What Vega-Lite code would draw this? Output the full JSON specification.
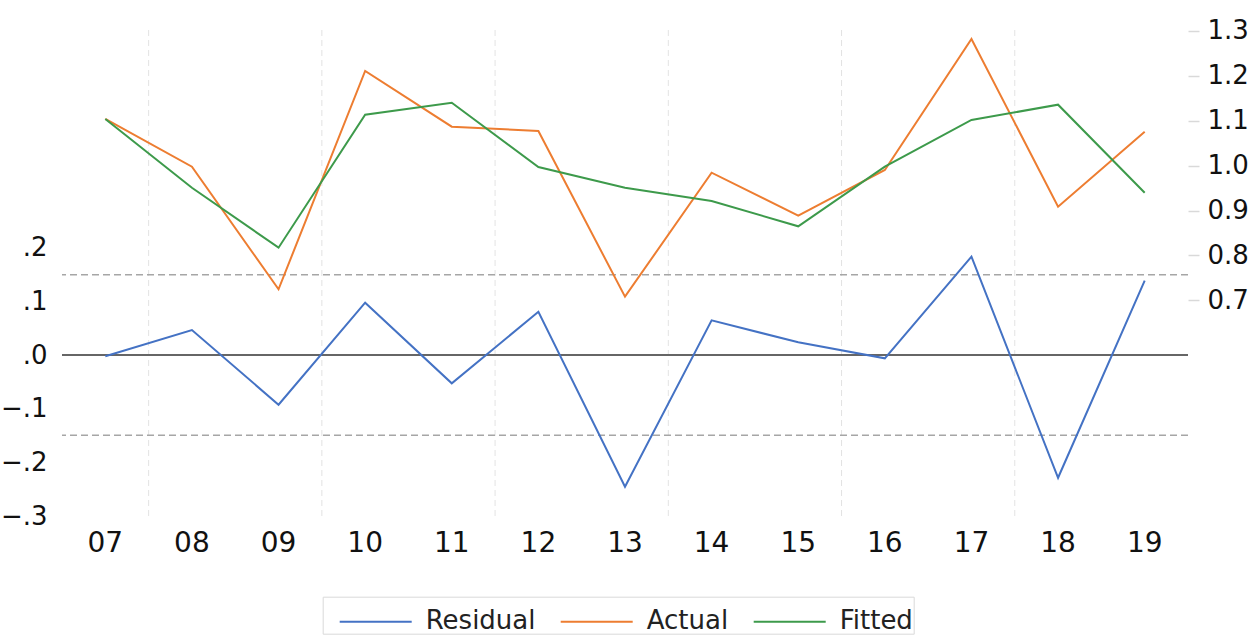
{
  "$schema": "https://vega.github.io/schema/vega-lite/v6.json",
  "width": 1126,
  "height": 487,
  "autosize": {"type": "none"},
  "padding": {"left": 62, "top": 30, "right": 66, "bottom": 119},
  "background": "white",
  "config": {
    "view": {"stroke": null},
    "font": "DejaVu Sans",
    "axis": {"labelFont": "DejaVu Sans", "labelColor": "#111111", "grid": false, "domain": false},
    "axisX": {"title": null, "labelAngle": 0, "ticks": false, "labelFontSize": 28, "labelPadding": 12}
  },
  "datasets": {
    "series": [
      {"year": "07", "series": "Residual", "value": -0.0024},
      {"year": "08", "series": "Residual", "value": 0.0465},
      {"year": "09", "series": "Residual", "value": -0.0924},
      {"year": "10", "series": "Residual", "value": 0.0972},
      {"year": "11", "series": "Residual", "value": -0.0526},
      {"year": "12", "series": "Residual", "value": 0.0805},
      {"year": "13", "series": "Residual", "value": -0.2448},
      {"year": "14", "series": "Residual", "value": 0.0645},
      {"year": "15", "series": "Residual", "value": 0.0236},
      {"year": "16", "series": "Residual", "value": -0.0061},
      {"year": "17", "series": "Residual", "value": 0.1827},
      {"year": "18", "series": "Residual", "value": -0.2281},
      {"year": "19", "series": "Residual", "value": 0.1381},
      {"year": "07", "series": "Actual", "value": 1.1039},
      {"year": "08", "series": "Actual", "value": 0.9976},
      {"year": "09", "series": "Actual", "value": 0.7245},
      {"year": "10", "series": "Actual", "value": 1.2109},
      {"year": "11", "series": "Actual", "value": 1.0868},
      {"year": "12", "series": "Actual", "value": 1.0772},
      {"year": "13", "series": "Actual", "value": 0.708},
      {"year": "14", "series": "Actual", "value": 0.9843},
      {"year": "15", "series": "Actual", "value": 0.8885},
      {"year": "16", "series": "Actual", "value": 0.9903},
      {"year": "17", "series": "Actual", "value": 1.2822},
      {"year": "18", "series": "Actual", "value": 0.9085},
      {"year": "19", "series": "Actual", "value": 1.0756},
      {"year": "07", "series": "Fitted", "value": 1.1039},
      {"year": "08", "series": "Fitted", "value": 0.9508},
      {"year": "09", "series": "Fitted", "value": 0.8172},
      {"year": "10", "series": "Fitted", "value": 1.1135},
      {"year": "11", "series": "Fitted", "value": 1.1402},
      {"year": "12", "series": "Fitted", "value": 0.997},
      {"year": "13", "series": "Fitted", "value": 0.9508},
      {"year": "14", "series": "Fitted", "value": 0.9212},
      {"year": "15", "series": "Fitted", "value": 0.8648},
      {"year": "16", "series": "Fitted", "value": 0.9976},
      {"year": "17", "series": "Fitted", "value": 1.1017},
      {"year": "18", "series": "Fitted", "value": 1.1358},
      {"year": "19", "series": "Fitted", "value": 0.9397}
    ],
    "grid": [{"year": "07"}, {"year": "09"}, {"year": "11"}, {"year": "13"}, {"year": "15"}, {"year": "17"}],
    "bands": [{"level": 0.149}, {"level": -0.149}],
    "zero": [{"level": 0}]
  },
  "layer": [
    {
      "layer": [
        {
          "data": {"name": "grid"},
          "mark": {"type": "rule", "color": "#E3E3E3", "strokeWidth": 1, "strokeDash": [6, 4]},
          "encoding": {
            "x": {"field": "year", "type": "ordinal", "bandPosition": 1, "scale": {"type": "band", "paddingInner": 0, "paddingOuter": 0}}
          }
        },
        {
          "data": {"name": "bands"},
          "mark": {"type": "rule", "color": "#A6A6A6", "strokeWidth": 1.5, "strokeDash": [7, 4]},
          "encoding": {"y": {"field": "level", "type": "quantitative"}}
        },
        {
          "data": {"name": "zero"},
          "mark": {"type": "rule", "color": "#666666", "strokeWidth": 2},
          "encoding": {"y": {"field": "level", "type": "quantitative"}}
        },
        {
          "data": {"name": "series"},
          "transform": [{"filter": "datum.series == 'Residual'"}],
          "mark": {"type": "line", "strokeWidth": 2},
          "encoding": {
            "x": {"field": "year", "type": "ordinal", "scale": {"type": "band", "paddingInner": 0, "paddingOuter": 0}},
            "y": {"field": "value", "type": "quantitative"},
            "color": {"field": "series", "type": "nominal"}
          }
        }
      ],
      "encoding": {
        "y": {
          "type": "quantitative",
          "scale": {"domain": [-0.301, 0.604], "nice": false, "zero": false},
          "axis": {
            "orient": "left",
            "title": null,
            "values": [-0.3, -0.2, -0.1, 0, 0.1, 0.2],
            "labelExpr": "replace(format(datum.value, '.1f'), '0.', '.')",
            "ticks": false,
            "labelFontSize": 26,
            "labelPadding": 15
          }
        }
      }
    },
    {
      "data": {"name": "series"},
      "transform": [{"filter": "datum.series != 'Residual'"}],
      "mark": {"type": "line", "strokeWidth": 2},
      "encoding": {
        "x": {"field": "year", "type": "ordinal", "scale": {"type": "band", "paddingInner": 0, "paddingOuter": 0}},
        "y": {
          "field": "value",
          "type": "quantitative",
          "scale": {"domain": [0.2171, 1.3022], "nice": false, "zero": false},
          "axis": {
            "orient": "right",
            "title": null,
            "values": [0.7, 0.8, 0.9, 1.0, 1.1, 1.2, 1.3],
            "format": ".1f",
            "ticks": true,
            "tickColor": "#D9D9D9",
            "tickSize": 11,
            "tickWidth": 1.5,
            "labelFontSize": 26,
            "labelPadding": 8
          }
        },
        "color": {
          "field": "series",
          "type": "nominal",
          "scale": {"domain": ["Residual", "Actual", "Fitted"], "range": ["#4472C4", "#ED7D31", "#3D9A4B"]},
          "legend": {
            "orient": "none",
            "legendX": 260.7,
            "legendY": 566.7,
            "direction": "horizontal",
            "title": null,
            "symbolType": "M-1,-0.333H1",
            "symbolSize": 5184,
            "symbolStrokeWidth": 2,
            "symbolOffset": 16,
            "labelOffset": 13,
            "columnPadding": 8,
            "padding": 0,
            "labelFont": "DejaVu Sans",
            "labelFontSize": 26,
            "labelColor": "#222222",
            "labelBaseline": "bottom",
            "strokeColor": "#D9D9D9",
            "fillColor": "white"
          }
        }
      }
    }
  ],
  "resolve": {"scale": {"y": "independent"}}
}
